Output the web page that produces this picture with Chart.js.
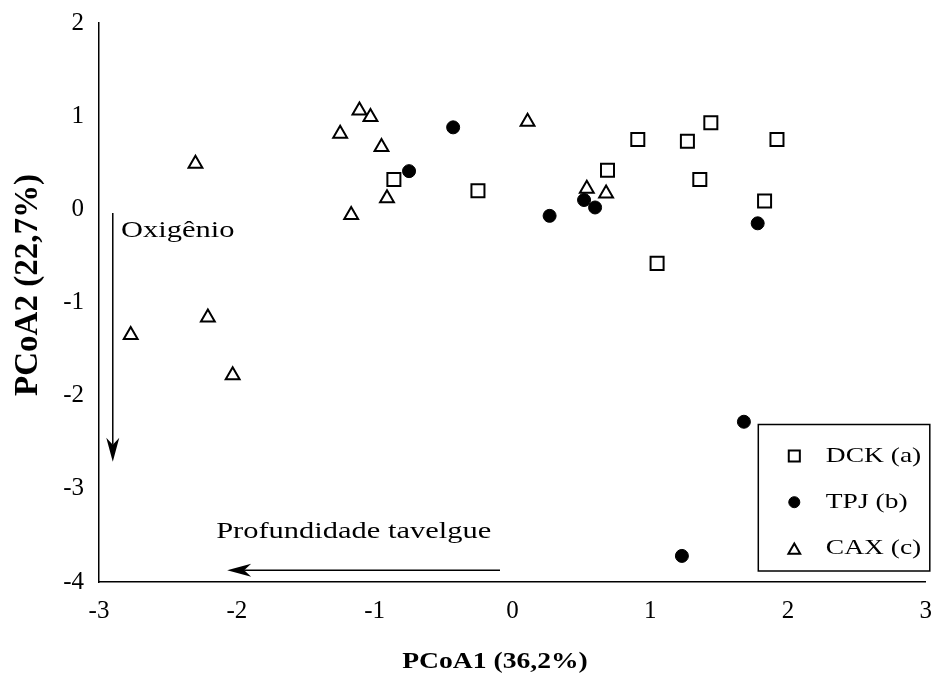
<!DOCTYPE html>
<html>
<head>
<meta charset="utf-8">
<script src="https://cdn.jsdelivr.net/npm/chart.js@4.4.0/dist/chart.umd.min.js"></script>
<style>
html, body { margin: 0; padding: 0; background: #fff; overflow: hidden; }
#wrap { position: relative; width: 937px; height: 677px; }
#myChart { display: block; }
</style>
</head>
<body>
<div id="wrap"><canvas id="myChart"></canvas></div>
<script>
// PCoA scores
const seriesNames = ['DCK (a)', 'TPJ (b)', 'CAX (c)']
const dckX = [-0.86, -0.25, 0.69, 0.91, 1.05, 1.27, 1.36, 1.44, 1.83, 1.92]
const dckY = [0.32, 0.20, 0.42, 0.75, -0.58, 0.73, 0.32, 0.93, 0.09, 0.75]
const tpjX = [-0.75, -0.43, 0.27, 0.52, 0.60, 1.23, 1.68, 1.78]
const tpjY = [0.41, 0.88, -0.07, 0.10, 0.02, -3.72, -2.28, -0.15]
const caxX = [-2.77, -2.30, -2.21, -2.03, -1.25, -1.17, -1.11, -1.03, -0.95, -0.91, 0.11, 0.54, 0.68]
const caxY = [-1.35, 0.49, -1.16, -1.78, 0.81, -0.06, 1.06, 0.99, 0.67, 0.12, 0.94, 0.22, 0.17]
const xTitle = 'PCoA1 (36,2%)'
const yTitle = 'PCoA2 (22,7%)'

// vector arrows + their labels (in data units)
const arrows = [
  { from: [-2.90, -0.04], to: [-2.90, -2.71] },
  { from: [-0.09, -3.875], to: [-2.07, -3.875] }
]
const notes = [
  { text: 'Oxigênio', x: -2.84, y: -0.23 },
  { text: 'Profundidade tavelgue', x: -2.15, y: -3.46 }
]

const SERIF = "'Liberation Serif', 'Times New Roman', serif"
const STRETCH = 1.27   // the original text is drawn a bit wide

function zip(xs, ys) {
  return xs.map((x, i) => ({ x: x, y: ys[i] }))
}

function wideText(ctx, text, x, y, sx, align) {
  ctx.save()
  ctx.translate(x, y)
  ctx.scale(sx, 1)
  ctx.textAlign = align || 'left'
  ctx.fillText(text, 0, 0)
  ctx.restore()
}

function drawArrow(ctx, x1, y1, x2, y2) {
  const ang = Math.atan2(y2 - y1, x2 - x1)
  const len = 24, half = 6.5, notch = 17
  ctx.beginPath()
  ctx.moveTo(x1, y1)
  ctx.lineTo(x2 - Math.cos(ang) * notch, y2 - Math.sin(ang) * notch)
  ctx.stroke()
  const bx = x2 - Math.cos(ang) * len, by = y2 - Math.sin(ang) * len
  const px = -Math.sin(ang) * half, py = Math.cos(ang) * half
  ctx.beginPath()
  ctx.moveTo(x2, y2)
  ctx.lineTo(bx + px, by + py)
  ctx.lineTo(x2 - Math.cos(ang) * notch, y2 - Math.sin(ang) * notch)
  ctx.lineTo(bx - px, by - py)
  ctx.closePath()
  ctx.fill()
}

const extras = {
  id: 'extras',
  afterDraw(chart) {
    const ctx = chart.ctx
    const xs = chart.scales.x, ys = chart.scales.y
    const area = chart.chartArea
    ctx.save()
    ctx.strokeStyle = '#000'
    ctx.fillStyle = '#000'
    ctx.lineWidth = 1.5

    arrows.forEach(a => {
      drawArrow(ctx, xs.getPixelForValue(a.from[0]), ys.getPixelForValue(a.from[1]),
        xs.getPixelForValue(a.to[0]), ys.getPixelForValue(a.to[1]))
    })

    ctx.font = '24px ' + SERIF
    ctx.textBaseline = 'middle'
    notes.forEach(n => {
      wideText(ctx, n.text, xs.getPixelForValue(n.x), ys.getPixelForValue(n.y), STRETCH)
    })

    // axis titles
    ctx.font = 'bold 24px ' + SERIF
    wideText(ctx, xTitle, 495, 662, 1.15, 'center')
    ctx.save()
    ctx.translate(28, 285)
    ctx.rotate(-Math.PI / 2)
    ctx.font = 'bold 33px ' + SERIF
    ctx.textAlign = 'center'
    ctx.fillText(yTitle, 0, 0)
    ctx.restore()

    // legend box, bottom right inside the plot
    const L = area.right - 167.5, T = area.bottom - 157.5
    const W = 171.5, H = 146.5
    ctx.fillStyle = '#fff'
    ctx.fillRect(L, T, W, H)
    ctx.strokeRect(L, T, W, H)
    ctx.font = '22px ' + SERIF
    chart.data.datasets.forEach((ds, i) => {
      const cy = T + 31.5 + i * 46.2
      ctx.fillStyle = ds.pointBackgroundColor
      ctx.strokeStyle = '#000'
      ctx.lineWidth = ds.pointBorderWidth
      Chart.helpers.drawPoint(ctx, {
        pointStyle: ds.pointStyle,
        radius: ds.pointRadius * 0.85,
        borderWidth: ds.pointBorderWidth,
        rotation: 0
      }, L + 36, cy + (ds.pointStyle === 'triangle' ? 2 : 0))
      ctx.fillStyle = '#000'
      wideText(ctx, ds.label, L + 67.5, cy, 1.25)
    })
    ctx.restore()
  }
}

const ctx = document.getElementById('myChart').getContext('2d')

new Chart(ctx, {
  type: 'scatter',
  data: {
    datasets: [
      {
        label: seriesNames[0],
        data: zip(dckX, dckY),
        pointStyle: 'rect',
        pointRadius: 9.2,
        pointBackgroundColor: '#fff',
        pointBorderColor: '#000',
        pointBorderWidth: 2
      },
      {
        label: seriesNames[1],
        data: zip(tpjX, tpjY),
        pointStyle: 'circle',
        pointRadius: 6.5,
        pointBackgroundColor: '#000',
        pointBorderColor: '#000',
        pointBorderWidth: 1
      },
      {
        label: seriesNames[2],
        data: zip(caxX, caxY),
        pointStyle: 'triangle',
        pointRadius: 8,
        pointBackgroundColor: '#fff',
        pointBorderColor: '#000',
        pointBorderWidth: 2
      }
    ]
  },
  options: {
    responsive: true,
    maintainAspectRatio: false,
    animation: false,
    layout: { padding: { top: 23, right: 8, left: 0, bottom: 0 } },
    plugins: {
      legend: { display: false },
      tooltip: { enabled: false }
    },
    scales: {
      x: {
        type: 'linear',
        min: -3,
        max: 3,
        grid: { display: false, drawTicks: false },
        border: { display: true, color: '#000', width: 1.5 },
        ticks: {
          stepSize: 1,
          padding: 14,
          color: '#000',
          font: { family: SERIF, size: 25 }
        },
        afterFit(scale) {
          scale.height = 95
          scale.paddingLeft = 0
          scale.paddingRight = 0
        }
      },
      y: {
        type: 'linear',
        min: -4,
        max: 2,
        grid: { display: false, drawTicks: false },
        border: { display: true, color: '#000', width: 1.5 },
        ticks: {
          stepSize: 1,
          padding: 15,
          color: '#000',
          font: { family: SERIF, size: 25 }
        },
        afterFit(scale) {
          scale.width = 99
          scale.paddingTop = 0
          scale.paddingBottom = 0
        }
      }
    }
  },
  plugins: [extras]
})
</script>
</body>
</html>
